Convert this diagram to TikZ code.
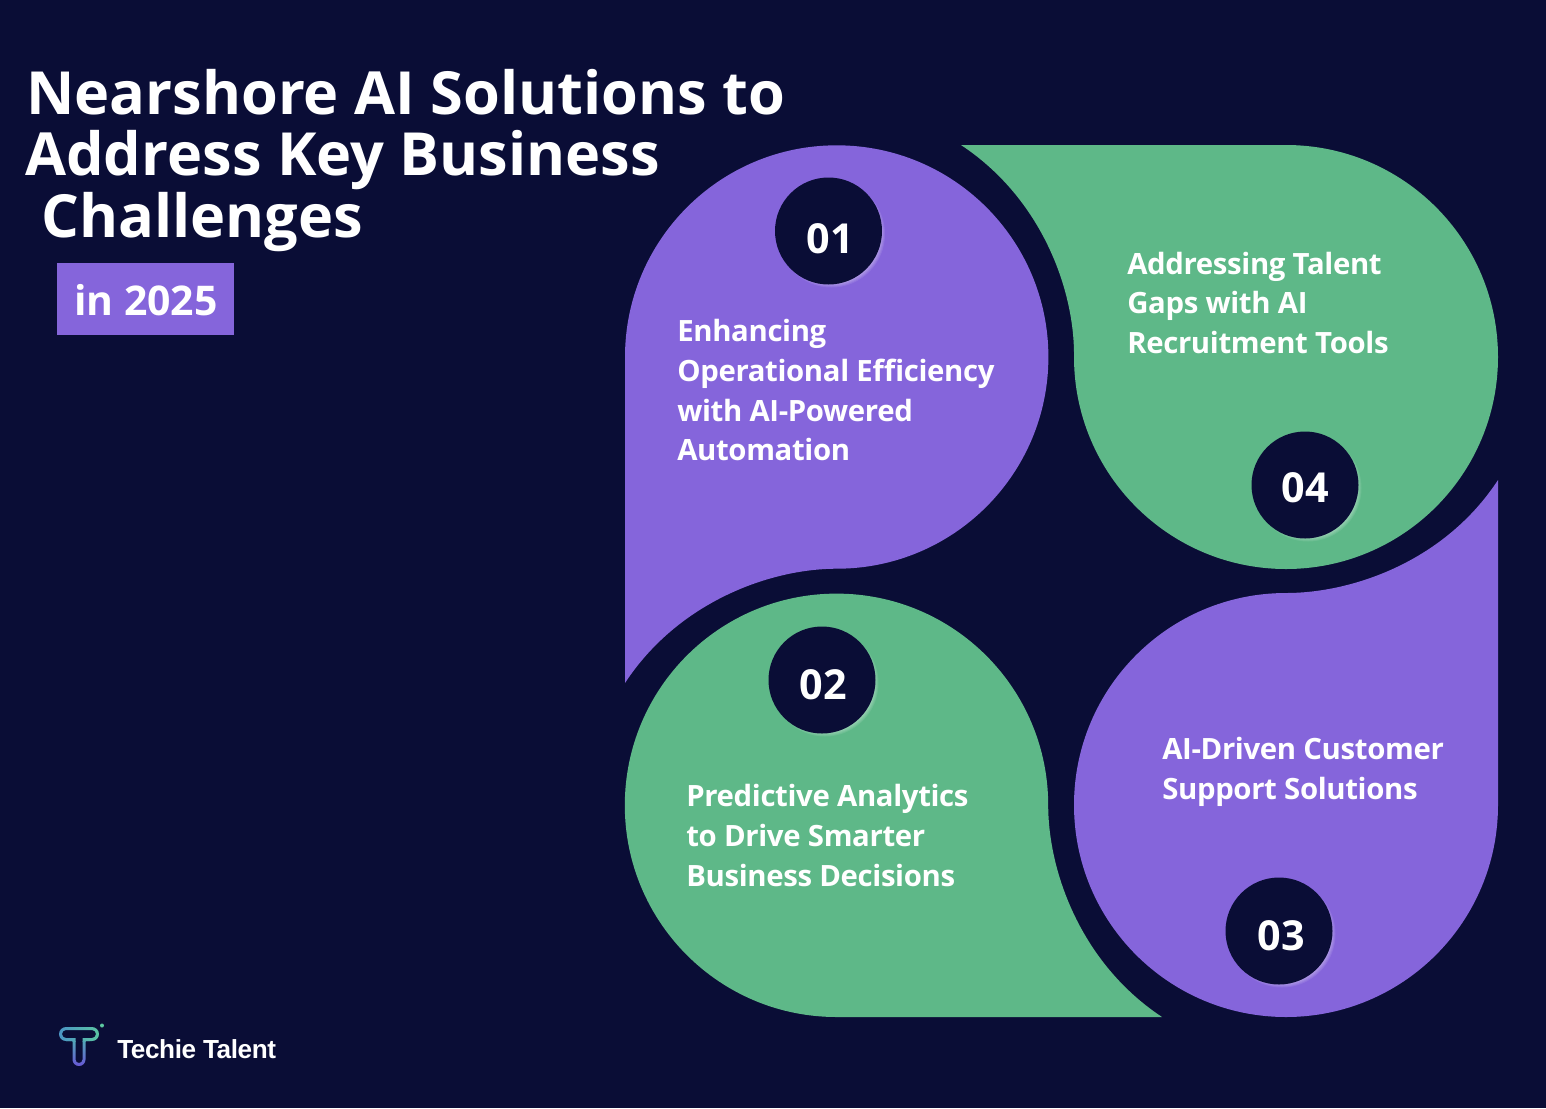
\documentclass[tikz,border=0pt]{standalone}
\usepackage{fontspec}
\setmainfont{Open Sans}
\newfontfamily\logofont{Liberation Sans}[LetterSpace=-1.5]
\newfontfamily\bodyfont{Open Sans}[LetterSpace=-1.2]
\definecolor{bgnavy}{HTML}{0A0D36}
\definecolor{violetpanel}{HTML}{8565DB}
\definecolor{greenpanel}{HTML}{5EB888}
\definecolor{logoblue}{HTML}{4A90C8}
\definecolor{logogreen}{HTML}{5CC8A0}
\definecolor{logoviolet}{HTML}{6A50D8}
\tikzset{
  titletext/.style={anchor=base west,inner sep=0pt,text=white,font=\bfseries\fontsize{44.6}{44.6}\selectfont},
  bodytext/.style={anchor=base west,inner sep=0pt,text=white,font=\bodyfont\bfseries\fontsize{22}{22}\selectfont},
  numtext/.style={anchor=center,inner sep=0pt,text=white,font=\bfseries\fontsize{31}{31}\selectfont},
  disc/.style={fill=bgnavy,draw=none},
  glowring/.style={fill=white,fill opacity=0.09,draw=none}
}
\newcommand{\numdisc}[6]{%
  \foreach \rr in {50.5,51.5,52.5,53.5}{\fill[glowring] (#1+3,#2+3) circle[radius=\rr];}
  \fill[disc] (#1,#2) circle[radius=53.5];
  \node[numtext] (#3) at (#5,#6) {#4};
}
\begin{document}
\begin{tikzpicture}[x=0.75pt,y=-0.75pt]
\fill[bgnavy] (0,0) rectangle (1546,1108);
\useasboundingbox (0,0) rectangle (1546,1108);
% panels
\fill[violetpanel] (625,683) -- (625,357) arc[start angle=180,end angle=450,radius=211.7]
  .. controls (770,568.7) and (678,602) .. (625,683) -- cycle;
\fill[greenpanel] (1162,1017) -- (836.5,1017) arc[start angle=90,end angle=360,radius=211.7]
  .. controls (1048.2,871.5) and (1081,963.5) .. (1162,1017) -- cycle;
\fill[violetpanel] (1498,480) -- (1498,805) arc[start angle=0,end angle=270,radius=212]
  .. controls (1353,593) and (1445,561) .. (1498,480) -- cycle;
\fill[greenpanel] (961,145) -- (1286,145) arc[start angle=-90,end angle=180,radius=212]
  .. controls (1074.8,290.5) and (1042,198.5) .. (961,145) -- cycle;
% discs
\numdisc{828.5}{231}{n1}{01}{830}{239}
\numdisc{822}{680}{n2}{02}{823.5}{685}
\numdisc{1279}{931}{n3}{03}{1281.5}{936}
\numdisc{1305}{485}{n4}{04}{1305}{488}
% title
\node[titletext] (t1) at (26,114) {Nearshore AI Solutions to};
\node[titletext] (t2) at (25,175.5) {Address Key Business};
\node[titletext] (t3) at (41,237) {Challenges};
\fill[violetpanel] (57,263) rectangle (234,335);
\node[anchor=base west,inner sep=0pt,text=white,font=\bfseries\fontsize{30.7}{30.7}\selectfont] (yr) at (74,315) {in 2025};
% body
\node[bodytext] (a1) at (677,341) {Enhancing};
\node[bodytext] (a2) at (677,381) {Operational Efficiency};
\node[bodytext] (a3) at (677,421) {with AI-Powered};
\node[bodytext] (a4) at (677,460) {Automation};
\node[bodytext] (b1) at (686,806) {Predictive Analytics};
\node[bodytext] (b2) at (686,846) {to Drive Smarter};
\node[bodytext] (b3) at (686,886) {Business Decisions};
\node[bodytext] (c1) at (1162,759) {AI-Driven Customer};
\node[bodytext] (c2) at (1162,799) {Support Solutions};
\node[bodytext] (d1) at (1127,274) {Addressing Talent};
\node[bodytext] (d2) at (1127,313) {Gaps with AI};
\node[bodytext] (d3) at (1127,353) {Recruitment Tools};
% logo
\begin{scope}[even odd rule]
\clip
  (66,1027) -- (92,1027) arc[start angle=-90,end angle=90,radius=7] -- (85.5,1041) -- (85.5,1059.5)
  arc[start angle=0,end angle=180,radius=6.5] -- (72.5,1041) -- (66,1041) arc[start angle=90,end angle=270,radius=7] -- cycle
  (66,1030) -- (92,1030) arc[start angle=-90,end angle=90,radius=4] -- (82.5,1038) -- (82.5,1059.5)
  arc[start angle=0,end angle=180,radius=3.5] -- (75.5,1038) -- (66,1038) arc[start angle=90,end angle=270,radius=4] -- cycle;
\shade[left color=logoblue,right color=logogreen] (55,1022) rectangle (102,1041);
\shade[top color=logoblue!60!logogreen,bottom color=logoviolet] (66,1041) rectangle (90,1068);
\end{scope}
\fill[logogreen] (102,1025.5) circle[radius=2];
\node[anchor=base west,inner sep=0pt,text=white,font=\logofont\bfseries\fontsize{19.6}{19.6}\selectfont] (logo) at (117,1058) {Techie Talent};
\end{tikzpicture}
\end{document}
